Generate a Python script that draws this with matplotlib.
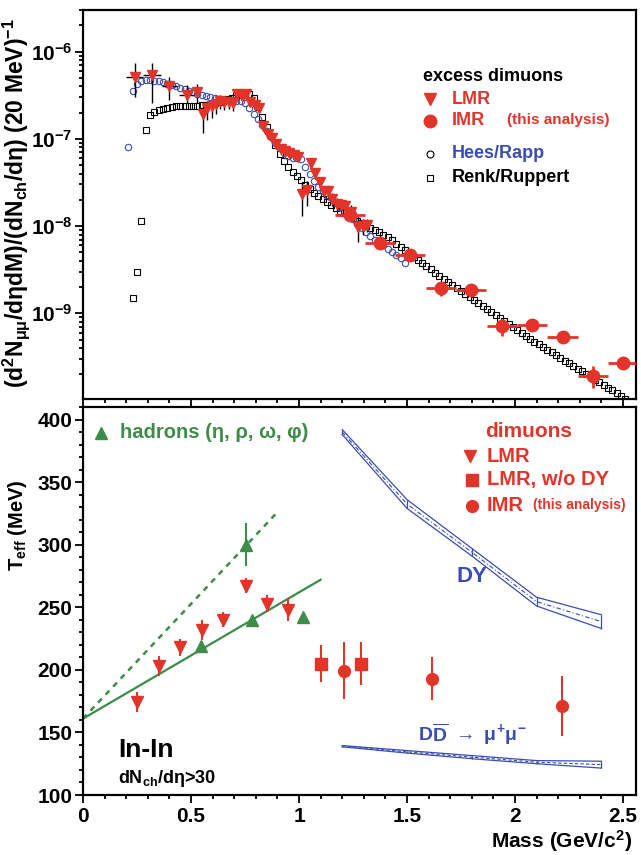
import numpy as np
import matplotlib
matplotlib.use("Agg")
import matplotlib.pyplot as plt
from matplotlib.ticker import MultipleLocator, LogLocator, NullFormatter, FuncFormatter

plt.rcParams['font.family'] = ['Liberation Sans', 'DejaVu Sans']
plt.rcParams['font.weight'] = 'bold'
plt.rcParams['mathtext.fontset'] = 'custom'
plt.rcParams['mathtext.rm'] = 'Liberation Sans:bold'
plt.rcParams['mathtext.bf'] = 'Liberation Sans:bold'
plt.rcParams['mathtext.it'] = 'Liberation Sans:bold'
plt.rcParams['mathtext.sf'] = 'Liberation Sans:bold'

RED = '#e3342a'
BLUE = '#3a4db0'
GREEN = '#3d8c48'

# ---------------- top panel data ----------------
# Renk/Ruppert (20 MeV steps starting at 0.23 GeV)
rr_start, rr_step = 0.23, 0.02
rr_yield = [
    1.5e-9, 3.0e-9, 1.15e-8, 1.25e-7, 1.9e-7, 2.05e-7, 2.15e-7, 2.22e-7, 2.28e-7, 2.32e-7,
    2.35e-7, 2.37e-7, 2.38e-7, 2.39e-7, 2.4e-7, 2.4e-7, 2.42e-7, 2.45e-7, 2.5e-7, 2.55e-7,
    2.62e-7, 2.72e-7, 2.85e-7, 2.97e-7, 3.08e-7, 3.2e-7, 3.25e-7, 3.25e-7, 2.95e-7, 2.3e-7,
    1.8e-7, 1.38e-7, 1.07e-7, 8.4e-8, 6.7e-8, 5.6e-8, 4.8e-8, 4.2e-8, 3.75e-8, 3.35e-8,
    2.95e-8, 2.65e-8, 2.42e-8, 2.22e-8, 2.05e-8, 1.9e-8, 1.75e-8, 1.62e-8, 1.5e-8, 1.4e-8,
    1.31e-8, 1.23e-8, 1.15e-8, 1.08e-8, 1.01e-8, 9.6e-9, 9.1e-9, 8.5e-9, 7.9e-9, 7.4e-9,
    6.84e-9, 6.28e-9, 5.77e-9, 5.30e-9, 4.86e-9, 4.47e-9, 4.10e-9, 3.77e-9, 3.46e-9, 3.18e-9,
    2.92e-9, 2.68e-9, 2.46e-9, 2.26e-9, 2.09e-9, 1.93e-9, 1.79e-9, 1.65e-9, 1.53e-9, 1.41e-9,
    1.31e-9, 1.21e-9, 1.12e-9, 1.03e-9, 9.55e-10, 8.83e-10, 8.17e-10, 7.55e-10, 6.98e-10, 6.46e-10,
    5.97e-10, 5.52e-10, 5.11e-10, 4.72e-10, 4.40e-10, 4.09e-10, 3.81e-10, 3.55e-10, 3.30e-10, 3.08e-10,
    2.86e-10, 2.67e-10, 2.48e-10, 2.31e-10, 2.15e-10, 2.00e-10, 1.87e-10, 1.74e-10, 1.62e-10, 1.51e-10,
    1.40e-10, 1.31e-10, 1.22e-10, 1.13e-10, 1.05e-10,
]
rr_mass = np.round(rr_start + rr_step * np.arange(len(rr_yield)), 3)

# Hees/Rapp (20 MeV steps starting at 0.21 GeV)
hr_start, hr_step = 0.21, 0.02
hr_yield = [
    8.0e-8, 3.5e-7, 4.3e-7, 4.6e-7, 4.7e-7, 4.7e-7, 4.65e-7, 4.55e-7, 4.45e-7, 4.3e-7,
    4.15e-7, 4.0e-7, 3.85e-7, 3.7e-7, 3.55e-7, 3.4e-7, 3.3e-7, 3.2e-7, 3.1e-7, 3.0e-7,
    2.92e-7, 2.85e-7, 2.8e-7, 2.78e-7, 2.78e-7, 2.75e-7, 2.68e-7, 2.55e-7, 2.25e-7, 1.95e-7,
    1.7e-7, 1.45e-7, 1.22e-7, 1.05e-7, 9.0e-8, 7.8e-8, 6.9e-8, 6.4e-8, 6.1e-8, 6.0e-8,
    5.9e-8, 4.7e-8, 4.0e-8, 3.3e-8, 2.8e-8, 2.55e-8, 2.3e-8, 2.1e-8, 1.85e-8, 1.65e-8,
    1.47e-8, 1.32e-8, 1.2e-8, 1.05e-8, 9.4e-9, 8.5e-9, 7.6e-9, 7.0e-9, 6.5e-9, 6.0e-9,
    5.5e-9, 5.0e-9, 4.6e-9, 4.3e-9, 3.8e-9,
]
hr_mass = np.round(hr_start + hr_step * np.arange(len(hr_yield)), 3)

# LMR excess dimuons
lmr_mass = [0.24, 0.32, 0.40, 0.48, 0.53, 0.555, 0.575, 0.595, 0.615, 0.635,
            0.655, 0.675, 0.695, 0.715, 0.735, 0.755, 0.775, 0.795, 0.815, 0.835,
            0.855, 0.875, 0.895, 0.915, 0.935, 0.955, 0.975, 0.995, 1.015, 1.035,
            1.055, 1.075, 1.095, 1.115, 1.135, 1.155, 1.175, 1.195, 1.215, 1.24,
            1.275, 1.295, 1.315]
lmr_yield = [5.1e-7, 5.4e-7, 4.0e-7, 3.2e-7, 3.4e-7, 1.95e-7, 2.28e-7, 2.36e-7, 2.5e-7, 2.72e-7,
             2.65e-7, 2.65e-7, 2.57e-7, 3.3e-7, 3.08e-7, 3.25e-7, 2.65e-7, 2.45e-7, 2.28e-7, 1.4e-7,
             1.15e-7, 1.03e-7, 8.65e-8, 7.7e-8, 7.2e-8, 6.9e-8, 6.6e-8, 6.2e-8, 2.35e-8, 2.6e-8,
             5.3e-8, 4.05e-8, 3.16e-8, 2.5e-8, 2.5e-8, 2.05e-8, 1.8e-8, 1.75e-8, 1.7e-8, 1.44e-8,
             9.7e-9, 1.0e-8, 1.04e-8]
lmr_low = [3.0e-7, 2.6e-7, 2.77e-7, 2.56e-7, 2.56e-7, 1.17e-7, 1.64e-7, 1.75e-7, 1.95e-7, 2.2e-7,
           2.15e-7, 2.2e-7, 2.1e-7, 2.9e-7, 2.8e-7, 2.95e-7, 2.4e-7, 2.25e-7, 2.1e-7, 1.3e-7,
           1.07e-7, 9.6e-8, 8.0e-8, 7.1e-8, 6.6e-8, 6.3e-8, 5.9e-8, 5.5e-8, 1.3e-8, 1.7e-8,
           4.6e-8, 3.5e-8, 2.75e-8, 2.1e-8, 2.1e-8, 1.7e-8, 1.5e-8, 1.45e-8, 1.4e-8, 1.15e-8,
           6.5e-9, 8.0e-9, 8.5e-9]
lmr_high = [7.4e-7, 7.4e-7, 5.1e-7, 4.1e-7, 4.3e-7, 2.56e-7, 2.7e-7, 2.8e-7, 3.0e-7, 3.2e-7,
            3.1e-7, 3.1e-7, 3.0e-7, 3.7e-7, 3.4e-7, 3.55e-7, 2.9e-7, 2.65e-7, 2.45e-7, 1.5e-7,
            1.23e-7, 1.1e-7, 9.3e-8, 8.3e-8, 7.8e-8, 7.5e-8, 7.3e-8, 6.9e-8, 3.1e-8, 3.3e-8,
            6.0e-8, 4.6e-8, 3.6e-8, 2.9e-8, 2.9e-8, 2.4e-8, 2.1e-8, 2.05e-8, 2.0e-8, 1.75e-8,
            1.3e-8, 1.2e-8, 1.2e-8]
lmr_xerr = [0.04, 0.04, 0.035, 0.035] + [0.0] * 39

# IMR excess dimuons (this analysis)
imr_mass = [1.236, 1.375, 1.514, 1.656, 1.796, 1.94, 2.08, 2.22, 2.36, 2.5]
imr_yield = [1.35e-8, 6.4e-9, 4.67e-9, 1.95e-9, 1.85e-9, 7.2e-10, 7.4e-10, 5.3e-10, 1.91e-10, 2.7e-10]
imr_low = [1.26e-8, 5.9e-9, 4.2e-9, 1.59e-9, 1.66e-9, 5.5e-10, 6.5e-10, 4.65e-10, 1.40e-10, 2.29e-10]
imr_high = [1.45e-8, 6.9e-9, 5.15e-9, 2.26e-9, 2.05e-9, 8.65e-10, 8.3e-10, 6.0e-10, 2.49e-10, 3.1e-10]
imr_xerr = [0.07] * 10

# ---------------- bottom panel data ----------------
tl_mass = [0.25, 0.35, 0.45, 0.55, 0.65, 0.755, 0.85, 0.95]
tl_T = [174, 203, 218, 232, 240, 267, 253, 248]
tl_err = [8, 8, 7, 8, 6, 6, 7, 9]

had_mass = [0.548, 0.755, 0.782, 1.019]
had_T = [219, 300, 240, 242]
had_err = [3, 17, 2, 2]

sq_mass = [1.101, 1.289]
sq_T = [205, 205]
sq_err = [15, 17]

ti_mass = [1.208, 1.617, 2.216]
ti_T = [199, 193, 171]
ti_err_lo = [22, 17, 24]
ti_err_hi = [23, 17, 24]

fit_mass = [0.0, 1.1]
fit_T = [161, 272]
fit2_mass = [0.0, 0.9]
fit2_T = [161, 326]

band_mass = [1.2, 1.5, 1.8, 2.1, 2.4]
dy_up = [392, 336, 297, 258, 244]
dy_lo = [388, 329, 291, 251, 233]
dd_up = [139.5, 135.5, 131.5, 127.5, 127]
dd_lo = [138.5, 133.5, 129, 125, 121.5]

xticks = [0, 0.5, 1, 1.5, 2, 2.5]

# ---------------- figure ----------------
W, H = 641, 855
fig = plt.figure(figsize=(W / 100, H / 100), dpi=100)
ax1 = fig.add_axes([83 / W, 1 - 399 / H, 553 / W, 389 / H])
ax2 = fig.add_axes([83 / W, 1 - 795 / H, 553 / W, 388 / H])

for ax in (ax1, ax2):
    for sp in ax.spines.values():
        sp.set_linewidth(1.6)
    ax.set_xlim(0, 2.56)
    ax.xaxis.set_major_locator(MultipleLocator(0.5))
    ax.xaxis.set_minor_locator(MultipleLocator(0.1))
    ax.tick_params(which='both', direction='out', width=1.3, labelsize=15,
                   top=False, right=False)
    ax.tick_params(which='major', length=6)
    ax.tick_params(which='minor', length=3.2)
    ax.tick_params(axis='y', which='major', pad=1.5)
    ax.tick_params(axis='x', which='major', pad=2.5)

# top panel
ax1.set_yscale('log')
ax1.set_ylim(1.04e-10, 3.0e-6)
ax1.yaxis.set_major_locator(LogLocator(base=10, numticks=20))
ax1.yaxis.set_minor_locator(LogLocator(base=10, subs=np.arange(2, 10), numticks=20))
ax1.yaxis.set_minor_formatter(NullFormatter())
ax1.yaxis.set_major_formatter(FuncFormatter(lambda v, p: r'$10^{%d}$' % int(round(np.log10(v)))))
ax1.tick_params(axis='x', labelbottom=False)

ax1.plot(rr_mass, rr_yield, 's', mfc='none', mec='black', ms=4.0, mew=0.8, zorder=2)
ax1.plot(hr_mass, hr_yield, 'o', mfc='none', mec=BLUE, ms=4.6, mew=0.8, zorder=3)
lm = np.array(lmr_yield)
ax1.errorbar(lmr_mass, lm, yerr=[lm - np.array(lmr_low), np.array(lmr_high) - lm],
             xerr=lmr_xerr, fmt='none', ecolor='black', elinewidth=1.0, zorder=4)
ax1.plot(lmr_mass, lm, 'v', color=RED, ms=7.5, mec=RED, zorder=5)
im = np.array(imr_yield)
ax1.errorbar(imr_mass, im, yerr=[im - np.array(imr_low), np.array(imr_high) - im],
             xerr=imr_xerr, fmt='o', color=RED, ms=9, ecolor=RED, elinewidth=2.0, zorder=6)

# top legend
def ax1t(x, y, s, **kw):
    ax1.text(x, y, s, transform=ax1.transAxes, va='center', ha='left', **kw)

ax1t(0.615, 0.828, 'excess dimuons', fontsize=13, color='black')
ax1.plot([0.6275], [0.772], 'v', color=RED, ms=8, transform=ax1.transAxes, clip_on=False)
ax1t(0.667, 0.771, 'LMR', fontsize=13, color=RED)
ax1.plot([0.6275], [0.715], 'o', color=RED, ms=9, transform=ax1.transAxes, clip_on=False)
ax1t(0.667, 0.715, 'IMR', fontsize=13, color=RED)
ax1t(0.767, 0.717, '(this analysis)', fontsize=11, color=RED)
ax1.plot([0.6275], [0.630], 'o', mfc='none', mec='black', ms=5, mew=0.8,
         transform=ax1.transAxes, clip_on=False)
ax1t(0.667, 0.630, 'Hees/Rapp', fontsize=13, color=BLUE)
ax1.plot([0.6275], [0.569], 's', mfc='none', mec='black', ms=5, mew=0.8,
         transform=ax1.transAxes, clip_on=False)
ax1t(0.667, 0.569, 'Renk/Ruppert', fontsize=13, color='black')

fig.text(16 / W, 1 - 203 / H,
         r'(d$^{2}$N$_{\mu\mu}$/d$\eta$dM)/(dN$_{ch}$/d$\eta$) (20 MeV)$^{-1}$',
         rotation=90, ha='center', va='center', fontsize=16.5)

# bottom panel
ax2.set_ylim(100, 410)
ax2.yaxis.set_major_locator(MultipleLocator(50))
ax2.yaxis.set_minor_locator(MultipleLocator(10))
ax2.set_xticks(xticks)
ax2.xaxis.set_major_formatter(FuncFormatter(lambda v, p: '%g' % v))

# green fit lines
ax2.plot(fit_mass, fit_T, '-', color=GREEN, lw=1.6, zorder=2)
ax2.plot(fit2_mass, fit2_T, color=GREEN, lw=1.8, ls=(0, (2.2, 2.2)), zorder=2)

# bands
for up, lo, cstyle in ((dy_up, dy_lo, (0, (4, 2, 1, 2))), (dd_up, dd_lo, (0, (3, 2)))):
    up = np.array(up); lo = np.array(lo)
    ax2.plot(band_mass, up, color=BLUE, lw=0.9, zorder=2)
    ax2.plot(band_mass, lo, color=BLUE, lw=0.9, zorder=2)
    ax2.vlines(band_mass, lo, up, color=BLUE, lw=0.9, zorder=2)
    ax2.plot(band_mass, (up + lo) / 2, color=BLUE, lw=0.8, ls=cstyle, zorder=2)

ax2.errorbar(had_mass, had_T, yerr=had_err, fmt='^', color=GREEN, ms=8, ecolor=GREEN,
             elinewidth=1.5, zorder=4)
ax2.errorbar(tl_mass, tl_T, yerr=tl_err, fmt='v', color=RED, ms=8, ecolor=RED,
             elinewidth=1.5, zorder=5)
ax2.errorbar(sq_mass, sq_T, yerr=sq_err, fmt='s', color=RED, ms=8, ecolor=RED,
             elinewidth=1.5, zorder=5)
ax2.errorbar(ti_mass, ti_T, yerr=[ti_err_lo, ti_err_hi], fmt='o', color=RED, ms=8.5,
             ecolor=RED, elinewidth=1.5, zorder=5)

# bottom legend / labels
ax2.plot([0.083], [389.6], '^', color=GREEN, ms=8, clip_on=False)
ax2.text(0.171, 389.6, 'hadrons (η, ρ, ω, φ)', color=GREEN, fontsize=14.5, va='center', ha='left')
ax2.text(1.861, 390.4, 'dimuons', color=RED, fontsize=15, va='center', ha='left')
ax2.plot([1.792], [371], 'v', color=RED, ms=8, clip_on=False)
ax2.text(1.869, 370.6, 'LMR', color=RED, fontsize=14.5, va='center', ha='left')
ax2.plot([1.80], [352], 's', color=RED, ms=8, clip_on=False)
ax2.text(1.869, 352, 'LMR, w/o DY', color=RED, fontsize=14.5, va='center', ha='left')
ax2.plot([1.80], [331.2], 'o', color=RED, ms=8.5, clip_on=False)
ax2.text(1.869, 331.2, 'IMR', color=RED, fontsize=14.5, va='center', ha='left')
ax2.text(2.082, 331.6, '(this analysis)', color=RED, fontsize=10, va='center', ha='left')
ax2.text(1.73, 274.6, 'DY', color=BLUE, fontsize=16, va='center', ha='left')
ax2.text(1.551, 148.8, r'D$\overline{\mathrm{D}}$ $\rightarrow$ $\mu^{+}\mu^{-}$', color=BLUE,
         fontsize=14, va='center', ha='left')
ax2.text(0.162, 136, 'In-In', color='black', fontsize=19, va='center', ha='left')
ax2.text(0.162, 112.8, r'dN$_{ch}$/d$\eta$>30', color='black', fontsize=13, va='center', ha='left')

fig.text(18 / W, 1 - 525 / H, r'T$_{eff}$ (MeV)', rotation=90, ha='center', va='center',
         fontsize=14.5)
fig.text(632 / W, 1 - 841 / H, r'Mass (GeV/c$^{2}$)', ha='right', va='center', fontsize=15)

fig.savefig('out.png', dpi=100)
